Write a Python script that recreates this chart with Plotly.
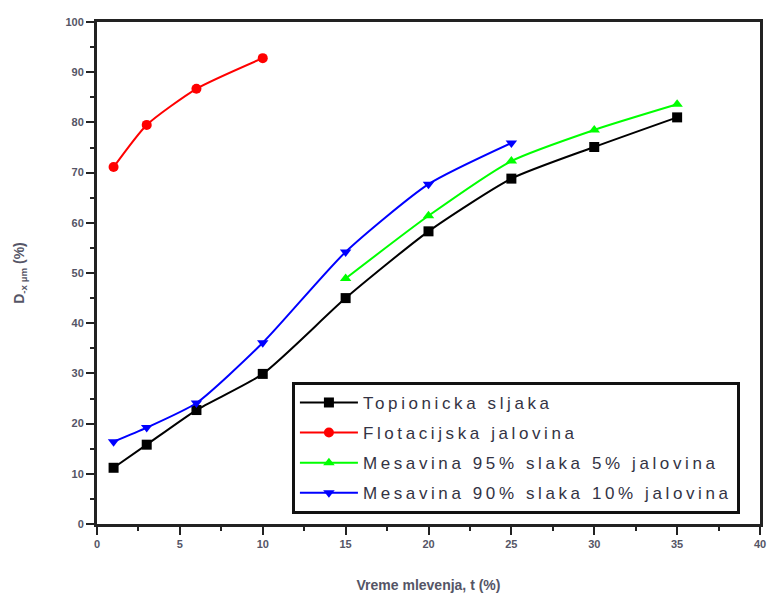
import plotly.graph_objects as go

# Data
x_slag = [1, 3, 6, 10, 15, 20, 25, 30, 35]
y_slag = [11.2, 15.8, 22.7, 29.9, 45.0, 58.3, 68.8, 75.1, 81.0]

x_flot = [1, 3, 6, 10]
y_flot = [71.1, 79.5, 86.7, 92.8]

x_mix95 = [15, 20, 25, 30, 35]
y_mix95 = [48.9, 61.4, 72.3, 78.5, 83.6]

x_mix90 = [1, 3, 6, 10, 15, 20, 25]
y_mix90 = [16.4, 19.2, 24.1, 36.1, 54.2, 67.7, 75.9]

names = ["Topionicka sljaka", "Flotacijska jalovina",
         "Mesavina 95% slaka 5% jalovina", "Mesavina 90% slaka 10% jalovina"]
colors = ["#000000", "#FF0000", "#00FF00", "#0000FF"]
symbols = ["square", "circle", "triangle-up", "triangle-down"]

x_ticks = [0, 5, 10, 15, 20, 25, 30, 35, 40]
y_ticks = [0, 10, 20, 30, 40, 50, 60, 70, 80, 90, 100]

FONT = "Liberation Sans, Arial"

fig = go.Figure()
for i, (xs, ys, nm, c, s) in enumerate(zip([x_slag, x_flot, x_mix95, x_mix90],
                                           [y_slag, y_flot, y_mix95, y_mix90],
                                           names, colors, symbols)):
    fig.add_trace(go.Scatter(
        x=xs, y=ys,
        name='<span style="letter-spacing:3.6px">' + nm + '</span>',
        legendgroup="g%d" % i,
        mode="lines+markers",
        line=dict(color=c, width=2, shape="spline", smoothing=0.6),
        marker=dict(color=c, symbol=s, size=10),
    ))

axis_common = dict(
    showline=True, linecolor="#222222", linewidth=3, mirror=True,
    ticks="outside", ticklen=8, tickwidth=2, tickcolor="#222222",
    showgrid=False, zeroline=False, automargin=False,
    tickfont=dict(family=FONT, size=11, color="#555566", weight="bold"),
    minor=dict(ticks="outside", ticklen=4, tickwidth=2, tickcolor="#222222"),
)

fig.update_xaxes(range=[0, 40], tickvals=x_ticks, ticktext=[str(v) for v in x_ticks],
                 minor_dtick=2.5,
                 title=dict(text="<b>Vreme mlevenja, t (%)</b>", standoff=31,
                            font=dict(family=FONT, size=14, color="#555566")),
                 **axis_common)
fig.update_yaxes(range=[0, 100], tickvals=y_ticks, ticktext=[str(v) for v in y_ticks],
                 minor_dtick=5,
                 title=dict(text="<b>D<sub>-x µm</sub> (%)</b>", standoff=38,
                            font=dict(family=FONT, size=14, color="#555566")),
                 **axis_common)

fig.update_layout(
    width=770, height=601,
    margin=dict(l=97, r=10, t=22, b=77),
    paper_bgcolor="white", plot_bgcolor="white",
    legend=dict(x=0.294, y=0.283, xanchor="left", yanchor="top",
                bordercolor="#111111", borderwidth=3, bgcolor="white",
                font=dict(family=FONT, size=17, color="#333344"),
                tracegroupgap=5, itemwidth=58),
    showlegend=True,
)

fig.write_html("out.html", config={"displayModeBar": False},
               post_script="document.body.style.margin='0px';")
